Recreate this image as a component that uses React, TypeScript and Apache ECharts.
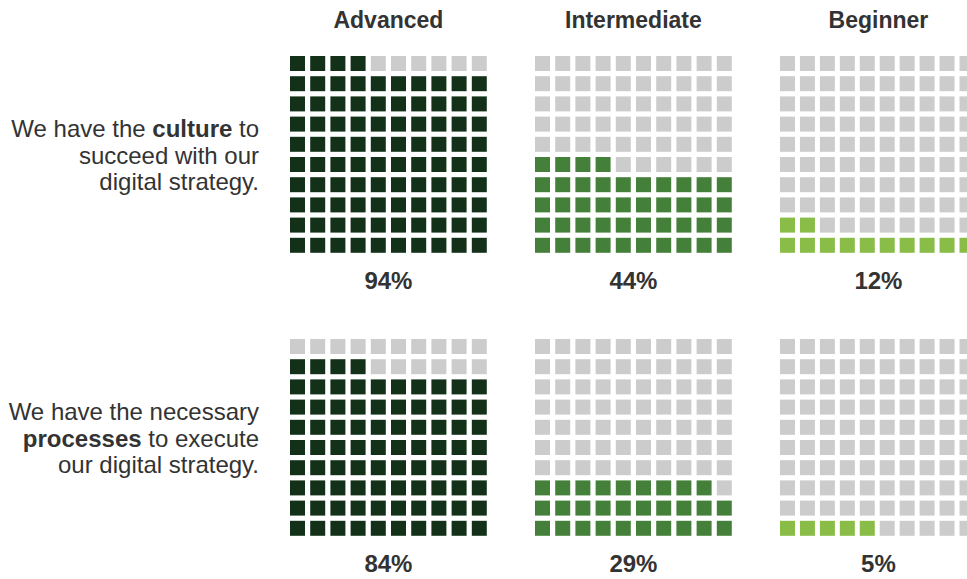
import React, { useEffect, useRef } from "react";
import * as echarts from "echarts";

const groups = ["Advanced", "Intermediate", "Beginner"];
const statements = [
  "We have the {b|culture} to\nsucceed with our\ndigital strategy.",
  "We have the necessary\n{b|processes} to execute\nour digital strategy.",
];
const advanced = [94, 84];
const intermediate = [44, 29];
const beginner = [12, 5];
const values = [advanced, intermediate, beginner];
const colors = ["#133119", "#44803a", "#8abd48"];
const emptyColor = "#cccccc";

export default function App() {
  const ref = useRef<HTMLDivElement>(null);
  useEffect(() => {
    if (!ref.current) return;
    const chart = echarts.init(ref.current, null, { renderer: "svg" });
    const pitch = 20.2;
    const sq = 15;
    const colX = [290, 535, 780];
    const rowY = [56, 339];
    const grids: any[] = [];
    const xAxes: any[] = [];
    const yAxes: any[] = [];
    const series: any[] = [];
    const graphic: any[] = [];
    const font = "'Liberation Sans', Arial, Helvetica, sans-serif";
    let gi = 0;
    for (let r = 0; r < 2; r++) {
      for (let c = 0; c < 3; c++) {
        const pct = values[c][r];
        grids.push({
          left: colX[c] + sq / 2,
          top: rowY[r] + sq / 2,
          width: pitch * 9,
          height: pitch * 9,
        });
        xAxes.push({ type: "value", gridIndex: gi, min: 0, max: 9, show: false });
        yAxes.push({ type: "value", gridIndex: gi, min: 0, max: 9, show: false });
        const data: any[] = [];
        for (let i = 0; i < 100; i++) {
          const row = Math.floor(i / 10);
          const col = i % 10;
          data.push({
            value: [col, row],
            itemStyle: { color: i < pct ? colors[c] : emptyColor, opacity: 1 },
          });
        }
        series.push({
          type: "scatter",
          xAxisIndex: gi,
          yAxisIndex: gi,
          symbol: "rect",
          symbolSize: sq,
          itemStyle: { opacity: 1 },
          data,
          silent: true,
        });
        const cx = colX[c] + (pitch * 9 + sq) / 2;
        graphic.push({
          type: "text",
          x: cx,
          y: rowY[r] + pitch * 9 + sq + 28,
          style: {
            text: pct + "%",
            font: `bold 24px ${font}`,
            fill: "#333333",
            textAlign: "center",
            textVerticalAlign: "middle",
          },
        });
        gi++;
      }
    }
    groups.forEach((g, c) => {
      graphic.push({
        type: "text",
        x: colX[c] + (pitch * 9 + sq) / 2,
        y: 20,
        style: {
          text: g,
          font: `bold 23px ${font}`,
          fill: "#333333",
          textAlign: "center",
          textVerticalAlign: "middle",
        },
      });
    });
    statements.forEach((s, r) => {
      graphic.push({
        type: "text",
        x: 259,
        y: rowY[r] + 99,
        style: {
          text: s,
          fontSize: 24,
          fontFamily: font,
          fill: "#333333",
          align: "right",
          verticalAlign: "middle",
          lineHeight: 26.5,
          rich: {
            b: { fontWeight: "bold", fontSize: 24, fontFamily: font, fill: "#333333", lineHeight: 26.5 },
          },
        },
      });
    });
    chart.setOption({
      animation: false,
      backgroundColor: "#ffffff",
      grid: grids,
      xAxis: xAxes,
      yAxis: yAxes,
      series,
      graphic,
    });
    return () => chart.dispose();
  }, []);
  return (
    <div
      ref={ref}
      style={{ position: "fixed", left: 0, top: 0, width: 967, height: 579 }}
    />
  );
}
